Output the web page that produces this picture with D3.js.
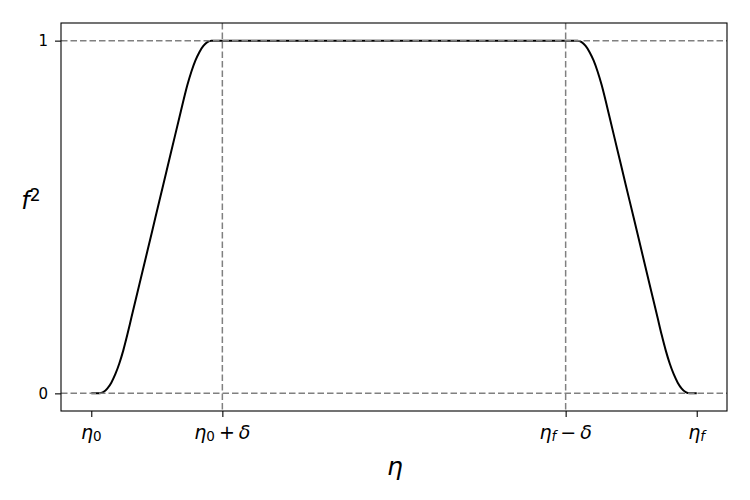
<!DOCTYPE html>
<html><head><meta charset="utf-8">
<script src="https://cdn.jsdelivr.net/npm/d3@7"></script>
<style>body{margin:0;background:#fff}svg{display:block}text{font-family:"DejaVu Sans",sans-serif}</style>
</head><body>
<svg id="c" width="750" height="500"></svg>
<script>
// Data (η normalised so that η0 = 0, ηf = 1)
const eta = [0, 0.0132, 0.0198, 0.0264, 0.0331, 0.0397, 0.0463, 0.0529, 0.0595, 0.0661, 0.0793, 0.0926, 0.1058, 0.1190, 0.1322, 0.1455, 0.1521, 0.1587, 0.1653, 0.1719, 0.1785, 0.1851, 0.1917, 0.1983,
             0.8033, 0.8099, 0.8165, 0.8231, 0.8298, 0.8364, 0.8430, 0.8496, 0.8562, 0.8694, 0.8826, 0.8959, 0.9091, 0.9223, 0.9355, 0.9421, 0.9488, 0.9554, 0.9620, 0.9686, 0.9752, 0.9818, 0.9884, 1.0];
const f2 = [0, 0, 0.0034, 0.0136, 0.0304, 0.0543, 0.0847, 0.1219, 0.1659, 0.2134, 0.3080, 0.4028, 0.4977, 0.5923, 0.6872, 0.7818, 0.8293, 0.8741, 0.9119, 0.9432, 0.9673, 0.9849, 0.9960, 1,
            1, 0.9960, 0.9849, 0.9673, 0.9432, 0.9119, 0.8741, 0.8293, 0.7818, 0.6872, 0.5923, 0.4977, 0.4028, 0.3080, 0.2134, 0.1659, 0.1219, 0.0847, 0.0543, 0.0304, 0.0136, 0.0034, 0, 0];
const xTickValues = [0, 0.2165, 0.7835, 1];
const xTickLabels = [["η", "0", "", ""], ["η", "0", "+", "δ"], ["η", "f", "−", "δ"], ["η", "f", "", ""]];
const yTickValues = [0, 1];
const yTickLabels = ["0", "1"];
const hLines = [0, 1];
const vLines = [0.2165, 0.7835];

const svg = d3.select("#c");
const L = 61, R = 727, T = 23, B = 411;
const x = d3.scaleLinear().domain([-0.05, 1.05]).range([L, R]);
const y = d3.scaleLinear().domain([-0.05, 1.05]).range([B, T]);

const pts = eta.map((e, i) => [e, f2[i]]);
svg.append("path").datum(pts)
  .attr("d", d3.line().x(d => x(d[0])).y(d => y(d[1])).curve(d3.curveMonotoneX))
  .attr("fill", "none").attr("stroke", "#000").attr("stroke-width", 2).attr("stroke-linejoin", "round");

// reference lines
svg.selectAll(".h").data(hLines).join("line")
  .attr("x1", L).attr("x2", R).attr("y1", d => y(d)).attr("y2", d => y(d))
  .attr("stroke", "#808080").attr("stroke-width", 1.5).attr("stroke-dasharray", "6.5,3");
svg.selectAll(".v").data(vLines).join("line")
  .attr("y1", T).attr("y2", B).attr("x1", d => x(d)).attr("x2", d => x(d))
  .attr("stroke", "#808080").attr("stroke-width", 1.5).attr("stroke-dasharray", "6.5,3");

// axes
const xAxis = d3.axisBottom(x).tickValues(xTickValues).tickSize(6).tickFormat("");
const gx = svg.append("g").attr("transform", `translate(0,${B})`).call(xAxis);
gx.select(".domain").remove();
gx.selectAll(".tick line").attr("stroke", "#000").attr("stroke-width", 1.1);

const yAxis = d3.axisLeft(y).tickValues(yTickValues).tickSize(6).tickPadding(7)
  .tickFormat((d, i) => yTickLabels[i]);
const gy = svg.append("g").attr("transform", `translate(${L},0)`).call(yAxis);
gy.select(".domain").remove();
gy.selectAll(".tick line").attr("stroke", "#000").attr("stroke-width", 1.1);
gy.selectAll(".tick text").style("font-size", "15px").attr("fill", "#000").style("font-family", "DejaVu Sans");

// x tick labels (math)
xTickValues.forEach((v, i) => {
  const [a, sub, op, b] = xTickLabels[i];
  const t = svg.append("text").attr("x", x(v)).attr("y", 439).attr("text-anchor", "middle")
    .style("font-size", "19px").attr("fill", "#000");
  t.append("tspan").attr("font-style", "italic").text(a);
  t.append("tspan").style("font-size", "13.5px").attr("dy", 1.5).attr("font-style", sub === "f" ? "italic" : "normal").text(sub);
  if (op) {
    t.append("tspan").attr("dy", -1.5).attr("dx", 4).text(op);
    t.append("tspan").attr("dx", 4).attr("font-style", "italic").text(b);
  }
});

// frame
svg.append("rect").attr("x", L).attr("y", T).attr("width", R - L).attr("height", B - T)
  .attr("fill", "none").attr("stroke", "#000").attr("stroke-width", 1.1);

// axis labels
svg.append("text").attr("x", (L + R) / 2 + 1).attr("y", 475).attr("text-anchor", "middle")
  .style("font-size", "25px").attr("font-style", "italic").text("η");
const yl = svg.append("text").attr("x", 31).attr("y", 209).attr("text-anchor", "middle").style("font-size", "24px");
yl.append("tspan").attr("font-style", "italic").text("f");
yl.append("tspan").style("font-size", "17px").attr("dy", -8).text("2");
</script>
</body></html>
